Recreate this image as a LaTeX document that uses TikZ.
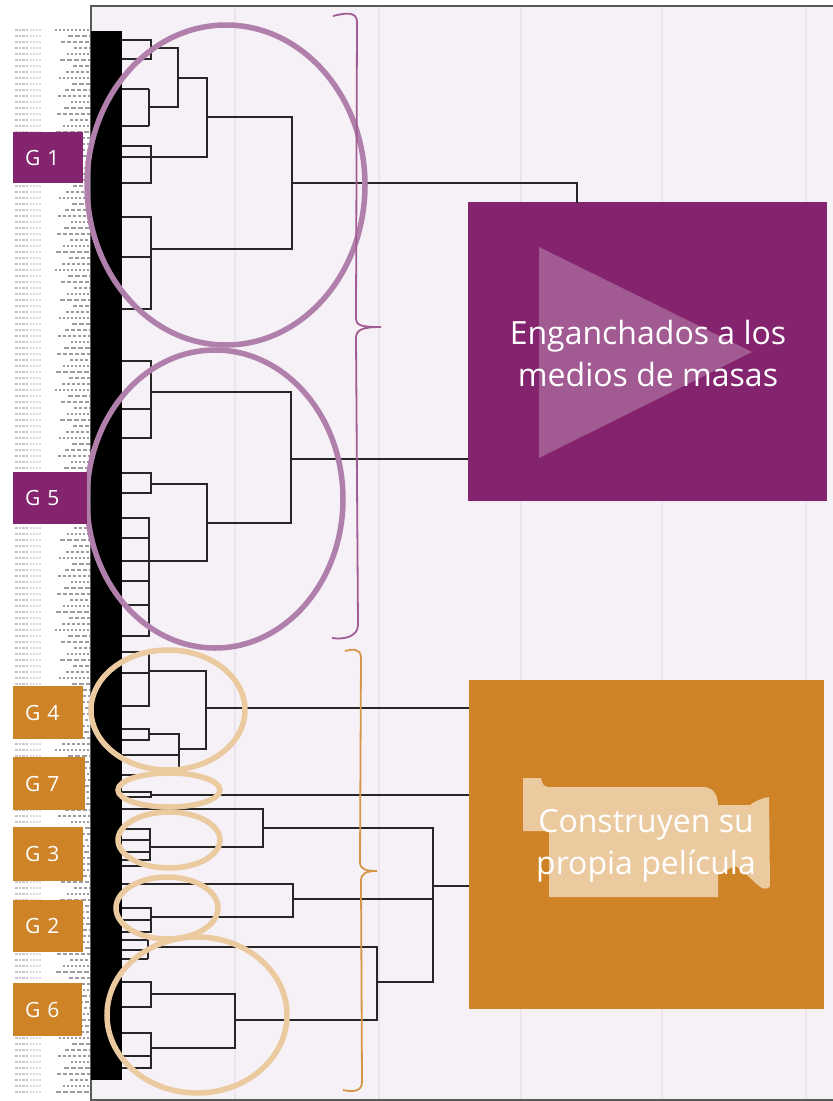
\documentclass[tikz,border=0pt]{standalone}
\usepackage{fontspec}
\setmainfont{Open Sans}
\definecolor{fondo}{HTML}{F5F1F6}
\definecolor{rejilla}{HTML}{EBE4EC}
\definecolor{morado}{HTML}{84246F}
\definecolor{moradoc}{HTML}{B07FAB}
\definecolor{naranja}{HTML}{CF8327}
\definecolor{naranjac}{HTML}{ECCAA0}
\tikzset{
	enlace/.style={line width=2pt,draw=black!85},
	circulo/.style={line width=5.5pt,fill=none},
	etiqueta/.style={inner xsep=12pt,inner ysep=0pt,align=left,text=white,font=\fontsize{21}{24}\selectfont},
	caja/.style={inner sep=0pt},
	rotulo/.style={align=center,text=white,font=\fontsize{32}{42}\selectfont}
}
\begin{document}
\begin{tikzpicture}[x=1pt,y=-1pt]
	\useasboundingbox (0,0) rectangle (833,1101);
	% columnas de texto diminuto
	\foreach \Fila in {0,...,177}
	{
		\pgfmathsetmacro{\Yc}{30+6*\Fila}
		\pgfmathsetmacro{\Xi}{55+mod(\Fila*13,20)}
		\pgfmathsetmacro{\Da}{2+mod(\Fila*7,4)}
		\draw[black!22,line width=2pt,dash pattern=on 2.5pt off 1pt] (15,\Yc) -- (28,\Yc);
		\draw[black!14,line width=2pt,dash pattern=on 2pt off 1pt] (30,\Yc) -- (41,\Yc);
		\draw[black!38,line width=2pt,dash pattern=on \Da pt off 2pt] (\Xi,\Yc) -- (90,\Yc);
	}
	\fill[fondo] (91,6) rectangle (833,1100);
	\foreach \Xc in {235,379,521,662,806}
	{
		\draw[rejilla,line width=1.2pt] (\Xc,6) -- (\Xc,1100);
	}
	\draw[black!65,line width=1.5pt] (833,6) -- (91,6) -- (91,1100) -- (833,1100);
	\fill[black] (91,31) rectangle (122,1080);
	% hojas
	\foreach \Xc/\Yc in 
	{151/40,151/59,149/89,149/126,151/146,151/183,151/217,151/257,151/309,
	151/361,151/409,151/438,151/473,151/493,149/518,149/538,149/581,149/605,149/636,
	149/652,149/673,149/706,149/729,149/740,179/755,145/775,151/792,151/797,
	150/829,150/840,150/852,150/866,151/908,151/920,151/932,148/940,148/950,148/959,
	151/982,151/1007,151/1033,151/1056,151/1068}
	{
		\draw[enlace] (122,\Yc) -- (\Xc,\Yc);
	}
	% uniones
	\foreach \Xa/\Ya/\Xb/\Yb/\Xc in 
	{122/40/122/59/151,151/48/149/107/178,149/126/149/89/149,178/78/122/157/207,
	122/146/122/183/151,207/117/151/249/292,122/217/122/309/151,
	122/361/122/438/151,151/392/207/523/291,122/473/122/493/151,151/484/122/561/207,
	122/518/122/636/149,
	122/652/122/706/149,149/671/179/749/206,122/729/122/740/149,149/734/179/768/179,
	122/792/122/797/151,122/809/150/847/263,122/829/122/860/150,
	122/884/151/917/293,122/908/122/932/151,263/828/377/982/433,
	148/947/235/1020/377,148/940/148/959/148,
	122/982/122/1007/151,151/994/151/1048/235,122/1033/122/1068/151}
	{
		\draw[enlace] (\Xa,\Ya) -| (\Xc,\Yb) -- (\Xb,\Yb);
	}
	\draw[enlace] (293,899) -- (433,899);
	% salidas
	\node[caja,fill=morado,minimum width=359pt,minimum height=299pt] (cajaMedios) at (647.5,351.5) {};
	\node[caja,fill=naranja,minimum width=355pt,minimum height=329pt] (cajaPelicula) at (646.5,844.5) {};
	\coordinate (j1) at (292,183);
	\coordinate (s1) at (577,202.5);
	\coordinate (j2) at (291,459);
	\coordinate (j3) at (206,708);
	\coordinate (j4) at (151,795);
	\coordinate (j5) at (433,886);
	\draw[enlace] (j1) -| (s1);
	\draw[enlace] (j2) -- (j2 -| cajaMedios.west);
	\draw[enlace] (j3) -- (j3 -| cajaPelicula.west);
	\draw[enlace] (j4) -- (j4 -| cajaPelicula.west);
	\draw[enlace] (j5) -- (j5 -| cajaPelicula.west);
	% circulos
	\foreach \Xc/\Yc/\Ra/\Rb/\Color in 
	{226/185/139/160/moradoc,215/499/128/149/moradoc,168/710/77/60/naranjac,
	169/790/51/17/naranjac,169/840/51/28/naranjac,167/908/51/31/naranjac,197/1015/90/78/naranjac}
	{
		\draw[circulo,\Color] (\Xc,\Yc) ellipse ({\Ra pt} and {\Rb pt});
	}
	% llaves
	\draw[morado!75,line width=1.8pt] (333,16) .. controls (345,13) and (357,11) .. (357,22) -- (356,318) .. controls (356,326) and (362,327) .. (381,327) .. controls (362,327) and (356,330) .. (356,338) -- (358,625) .. controls (358,636) and (345,640) .. (332,638);
	\draw[naranja!85,line width=1.8pt] (345,651) .. controls (352,649) and (361,648) .. (361,658) -- (360,862) .. controls (360,869) and (365,871) .. (377,871) .. controls (365,871) and (361,874) .. (361,881) -- (362,1082) .. controls (362,1092) and (352,1092) .. (343,1090);
	% figuras
	\fill[white,opacity=0.25] (539,247) -- (752,352) -- (539,458) -- cycle;
	\fill[naranjac] (523,778) -- (541,778) .. controls (542,784) and (544,787) .. (549,787) -- (703,787) .. controls (713,787) and (718,795) .. (718,805) -- (750,805) .. controls (755,801) and (762,798) .. (769,797) -- (770,885) .. controls (770,889) and (765,889) .. (762,888) .. controls (750,880) and (745,870) .. (735,866) .. controls (728,869) and (722,873) .. (718,873) -- (718,897) -- (549,897) -- (549,831) -- (523,831) -- cycle;
	\node[rotulo] (textoMedios) at (648,353) {Enganchados a los\\medios de masas};
	\node[rotulo] (textoPelicula) at (646,846) {Construyen su\\propia película};
	% grupos
	\foreach \Nombre/\Xc/\Yc/\Ancho/\Alto/\Color/\Texto in 
	{g1/48/157.5/70/51/morado/G 1,g5/50/498/74/52/morado/G 5,g4/48/712.5/70/53/naranja/G 4,
	g7/49/783.5/72/53/naranja/G 7,g3/48/854/70/54/naranja/G 3,g2/48/926/70/52/naranja/G 2,g6/47.5/1009.5/69/53/naranja/G 6}
	{
		\node[etiqueta,fill=\Color,text width={(\Ancho-24)*1pt},minimum height=\Alto pt] (\Nombre) at (\Xc,\Yc) {\Texto};
	}
\end{tikzpicture}
\end{document}
